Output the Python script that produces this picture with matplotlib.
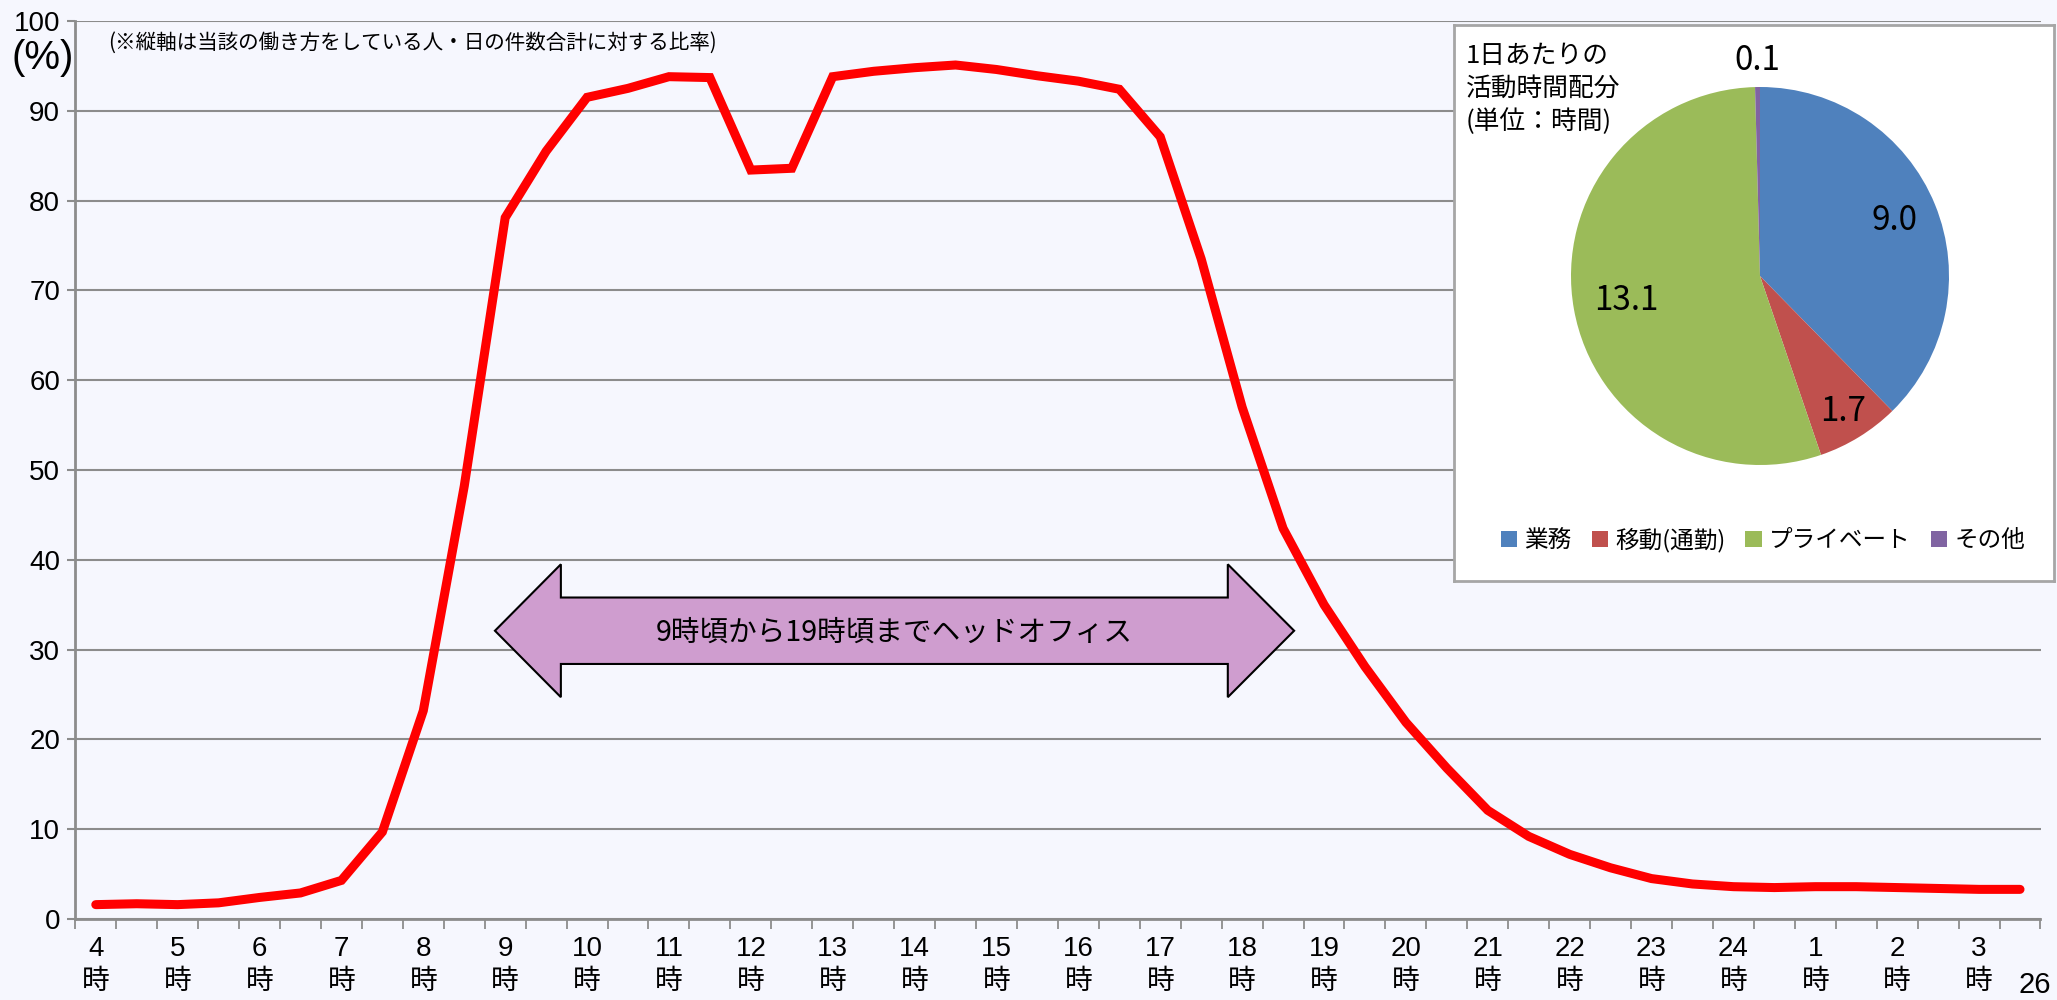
import matplotlib
matplotlib.use('Agg')
import matplotlib.pyplot as plt
from matplotlib.patches import Polygon, Patch
from matplotlib import font_manager
import numpy as np

# ---------------- data ----------------
hour_labels = ['4', '5', '6', '7', '8', '9', '10', '11', '12', '13', '14', '15',
               '16', '17', '18', '19', '20', '21', '22', '23', '24', '1', '2', '3']
# share (%) at every half hour from 4:00 to 3:30
ratio = [1.6, 1.7, 1.6, 1.8, 2.4, 2.9, 4.3, 9.7,
         23.2, 48.2, 78.1, 85.5, 91.5, 92.5, 93.8, 93.7,
         83.4, 83.6, 93.8, 94.4, 94.8, 95.1, 94.6, 93.9,
         93.3, 92.4, 87.1, 73.5, 57.0, 43.5, 35.0, 28.1,
         21.9, 16.8, 12.1, 9.2, 7.2, 5.7, 4.5, 3.9,
         3.6, 3.5, 3.6, 3.6, 3.5, 3.4, 3.3, 3.3]
y_ticks = [0, 10, 20, 30, 40, 50, 60, 70, 80, 90, 100]

pie_labels = ['業務', '移動(通勤)', 'プライベート', 'その他']
pie_values = [9.0, 1.7, 13.1, 0.1]
pie_colors = ['#4F81BD', '#C0504D', '#9BBB59', '#8064A2']

note_text = '(※縦軸は当該の働き方をしている人・日の件数合計に対する比率)'
arrow_text = '9時頃から19時頃までヘッドオフィス'
pie_title = ['1日あたりの', '活動時間配分', '(単位：時間)']
page_no = '26'

# ---------------- style ----------------
avail = {f.name for f in font_manager.fontManager.ttflist}
NUM = 'Liberation Sans Narrow' if 'Liberation Sans Narrow' in avail else 'Liberation Sans'
JP = 'Noto Sans CJK JP'
plt.rcParams['font.family'] = [NUM, JP, 'DejaVu Sans']

BG = '#F6F7FE'
GRID = '#8C8C8C'
W, H = 2057, 1000

fig = plt.figure(figsize=(W / 100, H / 100), dpi=100, facecolor=BG)

# ---------------- main line chart ----------------
ax = fig.add_axes([75.3 / W, 1 - 919 / H, (2040.5 - 75.3) / W, (919 - 21) / H])
ax.set_facecolor(BG)
x = np.arange(len(ratio))
ax.plot(x, ratio, color='#FF0000', lw=6.5, solid_joinstyle='miter',
        solid_capstyle='round', zorder=3)
ax.set_xlim(-0.5, len(ratio) - 0.5)
ax.set_ylim(0, 100)

ax.set_yticks(y_ticks)
ax.set_yticklabels([str(v) for v in y_ticks], fontsize=20, family=[NUM])
ax.yaxis.grid(True, color=GRID, lw=1.5, zorder=0)
ax.set_axisbelow(True)
ax.tick_params(axis='y', length=6, width=1.5, color=GRID, pad=5)

ax.set_xticks(np.arange(0, len(ratio), 2))
ax.set_xticklabels([f'{h}\n時' for h in hour_labels], fontsize=20,
                   family=[NUM, JP])
for t in ax.get_xticklabels():
    t.set_linespacing(1.35)
ax.set_xticks(np.arange(-0.5, len(ratio), 1), minor=True)
ax.tick_params(axis='x', which='major', length=0, pad=12)
ax.tick_params(axis='x', which='minor', length=7, width=1.3, color=GRID)

for s in ['top', 'right']:
    ax.spines[s].set_visible(False)
for s in ['left', 'bottom']:
    ax.spines[s].set_color(GRID)
    ax.spines[s].set_linewidth(2)

# double-headed arrow annotation
tipL, shL, shR, tipR = 9.75, 11.36, 27.65, 29.27
yc, sh, hh = 32.1, 3.7, 7.4
arrow = Polygon([(tipL, yc), (shL, yc + hh), (shL, yc + sh), (shR, yc + sh),
                 (shR, yc + hh), (tipR, yc), (shR, yc - hh), (shR, yc - sh),
                 (shL, yc - sh), (shL, yc - hh)], closed=True,
                facecolor='#CF9DCF', edgecolor='black', lw=1.5, zorder=2)
ax.add_patch(arrow)
ax.text((tipL + tipR) / 2, yc - 0.2, arrow_text, ha='center', va='center',
        fontsize=20.6, family=[JP], zorder=4)

fig.text(43 / W, 1 - 58 / H, '(%)', ha='center', va='center', fontsize=29,
         family=[NUM])
fig.text(108 / W, 1 - 43 / H, note_text, ha='left', va='center', fontsize=14.8,
         family=[JP])
fig.text(2018 / W, 1 - 985 / H, page_no, ha='left', va='center', fontsize=21,
         family=[NUM])

# ---------------- pie inset ----------------
box = fig.add_axes([1454 / W, 1 - 581 / H, (2054 - 1454) / W, (581 - 25) / H])
box.set_facecolor('white')
box.set_xticks([])
box.set_yticks([])
for s in box.spines.values():
    s.set_color('#A6A6A6')
    s.set_linewidth(2)

for i, line in enumerate(pie_title):
    fig.text(1466 / W, 1 - (56 + 33 * i) / H, line, ha='left', va='center',
             fontsize=18.5, family=[JP])

R = 189
pax = fig.add_axes([(1760 - R) / W, 1 - (276 + R) / H, 2 * R / W, 2 * R / H])
wedges, _ = pax.pie(pie_values, colors=pie_colors, startangle=90,
                    counterclock=False, radius=1,
                    wedgeprops=dict(linewidth=0))
pax.set_xlim(-1, 1)
pax.set_ylim(-1, 1)
pax.set_aspect('equal')
label_dist = [0.77, 0.84, 0.72, 1.14]
for w, v, d in zip(wedges, pie_values, label_dist):
    th = np.deg2rad((w.theta1 + w.theta2) / 2)
    pax.text(d * np.cos(th), d * np.sin(th), f'{v:.1f}', ha='center',
             va='center', fontsize=24, family=[JP], clip_on=False)

handles = [Patch(facecolor=c, edgecolor='none') for c in pie_colors]
box.legend(handles, pie_labels, loc='center', bbox_to_anchor=(1763 / W, 1 - 540 / H),
           bbox_transform=fig.transFigure, ncol=4, frameon=False,
           handlelength=0.7, handleheight=0.7, handletextpad=0.3,
           columnspacing=0.85, borderaxespad=0, borderpad=0,
           prop=dict(family=[JP], size=17))

fig.savefig('out.png', dpi=100, facecolor=BG)
